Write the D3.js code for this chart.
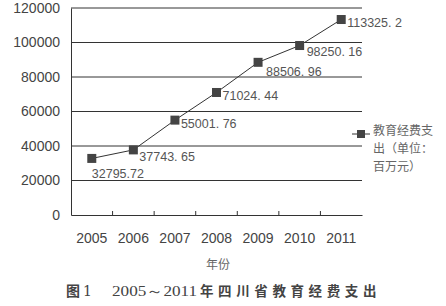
<!DOCTYPE html>
<html><head><meta charset="utf-8">
<script src="https://cdn.jsdelivr.net/npm/d3@7"></script>
<style>body{margin:0;background:#fff}svg{display:block}</style>
</head><body>
<script>
const years = ["2005","2006","2007","2008","2009","2010","2011"];
const values = [32795.72, 37743.65, 55001.76, 71024.44, 88506.96, 98250.16, 113325.2];
const valueLabels = ["32795.72","37743. 65","55001. 76","71024. 44","88506. 96","98250. 16","113325. 2"];
const yTicks = [0,20000,40000,60000,80000,100000,120000];
const legendLines = ["教育经费支","出（单位：","百万元）"];

const W=446,H=306;
const svg=d3.select("body").append("svg").attr("width",W).attr("height",H);
const narrow="'Liberation Sans Narrow','Arial Narrow','Liberation Sans',sans-serif";
const x=d3.scaleBand().domain(years).range([71,362]);
const y=d3.scaleLinear().domain([0,120000]).range([215,8]);

svg.append("g").selectAll("line").data(yTicks.filter(d=>d>0)).join("line")
  .attr("x1",71).attr("x2",362).attr("y1",d=>y(d)).attr("y2",d=>y(d))
  .attr("stroke","#333").attr("stroke-width",1);
const ya=svg.append("g").attr("transform","translate(71,0)").call(d3.axisLeft(y).tickValues(yTicks).tickSize(0).tickPadding(11).tickFormat(d3.format("d")));
ya.select(".domain").attr("stroke","#333");
ya.selectAll("text").attr("font-family",narrow).attr("font-size",14).attr("fill","#444");
const xa=svg.append("g").attr("transform","translate(0,215)").call(d3.axisBottom(x).tickSize(0).tickPadding(18));
xa.select(".domain").attr("stroke","#333");
xa.selectAll("text").attr("font-family",narrow).attr("font-size",14).attr("fill","#444");
svg.append("g").selectAll("line").data(years.slice(1)).join("line")
  .attr("x1",d=>x(d)).attr("x2",d=>x(d)).attr("y1",215).attr("y2",211)
  .attr("stroke","#333");

const cx=d=>x(d)+x.bandwidth()/2;
svg.append("path").datum(values).attr("fill","none").attr("stroke","#333").attr("stroke-width",1)
  .attr("d",d3.line().x((d,i)=>cx(years[i])).y(d=>y(d)));
svg.append("g").selectAll("rect").data(values).join("rect")
  .attr("x",(d,i)=>cx(years[i])-4.5).attr("y",d=>y(d)-4.5).attr("width",9).attr("height",9)
  .attr("fill","#444");
const offs=[[0,16],[6,7],[6,4],[6,4],[8,10],[7,6],[6,3]];
svg.append("g").selectAll("text").data(values).join("text")
  .attr("x",(d,i)=>cx(years[i])+offs[i][0]).attr("y",d=>y(d))
  .attr("dy",(d,i)=>offs[i][1]+4)
  .attr("font-family",narrow).attr("font-size",12.5).attr("fill","#555")
  .attr("xml:space","preserve").style("white-space","pre")
  .text((d,i)=>valueLabels[i]);

svg.append("line").attr("x1",352).attr("x2",370).attr("y1",134).attr("y2",134).attr("stroke","#333");
svg.append("rect").attr("x",357).attr("y",130).attr("width",8).attr("height",8).attr("fill","#444");
svg.append("g").selectAll("text").data(legendLines).join("text")
  .attr("x",373).attr("y",(d,i)=>135+i*18)
  .attr("font-family","'Noto Sans CJK SC',sans-serif").attr("font-size",12).attr("fill","#666")
  .text(d=>d);

svg.append("text").attr("x",218).attr("y",269).attr("text-anchor","middle")
  .attr("font-family","'Noto Sans CJK SC',sans-serif").attr("font-size",12).attr("fill","#666").text("年份");

const cap=svg.append("g").attr("fill","#444");
cap.append("text").attr("x",66).attr("y",296).attr("font-size",14).attr("font-weight","bold")
  .attr("font-family","'Noto Sans CJK SC',sans-serif").text("图");
cap.append("text").attr("x",83).attr("y",296).attr("font-size",14)
  .attr("font-family","'DejaVu Serif','Liberation Serif',serif").text("1");
cap.append("text").attr("x",112).attr("y",296).attr("font-size",14).attr("textLength",85).attr("lengthAdjust","spacingAndGlyphs")
  .attr("font-family","'Liberation Serif',serif").text("2005～2011");
cap.append("text").attr("x",200).attr("y",296).attr("font-size",13.5).attr("font-weight","bold")
  .attr("letter-spacing",4.6)
  .attr("font-family","'Noto Sans CJK SC',sans-serif").text("年四川省教育经费支出");
</script>
</body></html>
